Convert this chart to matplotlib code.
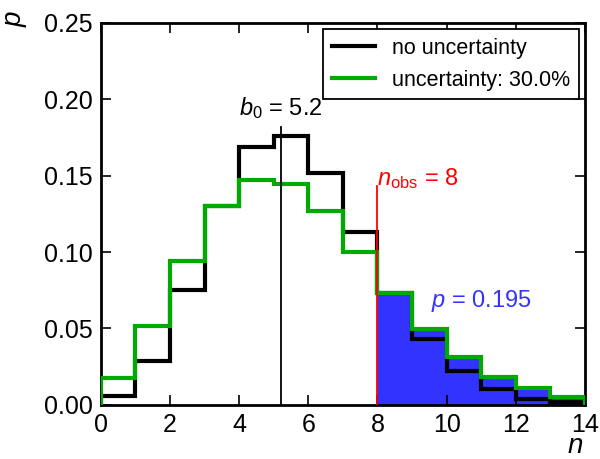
"""
Poisson p-value plot: no uncertainty vs 30% uncertainty on b0
"""
import numpy as np
import matplotlib
matplotlib.use("Agg")
import matplotlib.pyplot as plt

plt.rcParams['font.family'] = ['Liberation Sans', 'DejaVu Sans']
plt.rcParams['mathtext.fontset'] = 'custom'
plt.rcParams['mathtext.rm'] = 'Liberation Sans'
plt.rcParams['mathtext.it'] = 'Liberation Sans:italic'

# values
n_vals = np.arange(15)
p_nounc = [0.0058, 0.0285, 0.0750, 0.1300, 0.1690, 0.1760, 0.1520, 0.1130,
           0.0735, 0.0428, 0.0222, 0.0104, 0.0040, 0.0018]
p_unc = [0.0174, 0.0518, 0.0940, 0.1300, 0.1470, 0.1445, 0.1270, 0.1000,
         0.0735, 0.0495, 0.0315, 0.0185, 0.0107, 0.0054]
b0 = 5.2
n_obs = 8
p_value = 0.195
unc = 30.0

fig = plt.figure(figsize=(6.0, 4.59), dpi=100)
ax = fig.add_axes([0.168, 0.118, 0.807, 0.832])

# fill the tail under the green curve
edges = n_vals
ax.stairs(p_unc[n_obs:], edges[n_obs:], fill=True, color='#3333ff', zorder=1)

ax.stairs(p_nounc, edges, color='black', lw=3, label='no uncertainty', zorder=2)
ax.stairs(p_unc, edges, color='#00aa00', lw=3,
          label=f'uncertainty: {unc:.1f}%', zorder=3)

# markers for b0 and n_obs
ax.plot([b0, b0], [0, 0.182], color='black', lw=1.3, zorder=4)
ax.plot([n_obs, n_obs], [0, 0.143], color='red', lw=1.3, zorder=4)

ax.text(b0, 0.186, r'$b_0$ = %.1f' % b0, ha='center', va='bottom', fontsize=17)
ax.text(n_obs, 0.140, r'$n_{\mathrm{obs}}$ = %d' % n_obs, color='red',
        ha='left', va='bottom', fontsize=17)
ax.text(9.55, 0.068, r'$p$ = %.3f' % p_value, color='#3333ff',
        ha='left', va='center', fontsize=17)

ax.set_xlim(0, 14)
ax.set_ylim(0, 0.25)
ax.set_xticks(np.arange(0, 15, 2))
ax.set_yticks(np.arange(0, 0.26, 0.05))
ax.set_yticklabels([f'{v:.2f}' for v in np.arange(0, 0.26, 0.05)])
ax.tick_params(direction='in', top=True, right=True, labelsize=18,
               length=7, width=1.2, pad=6)
for s in ax.spines.values():
    s.set_linewidth(2)

# axis labels sit in the corners
fig.text(575 / 600, 1 - 446 / 459, r'$n$', fontsize=20, ha='center', va='center')
fig.text(16 / 600, 1 - 18 / 459, r'$p$', fontsize=20, rotation=90,
         ha='center', va='center')

leg = ax.legend(loc='upper right', fontsize=15.5, fancybox=False,
                edgecolor='black', framealpha=1, borderaxespad=0.3,
                handlelength=2.0)
leg.get_frame().set_linewidth(1.3)

fig.savefig('out.png', dpi=100)
